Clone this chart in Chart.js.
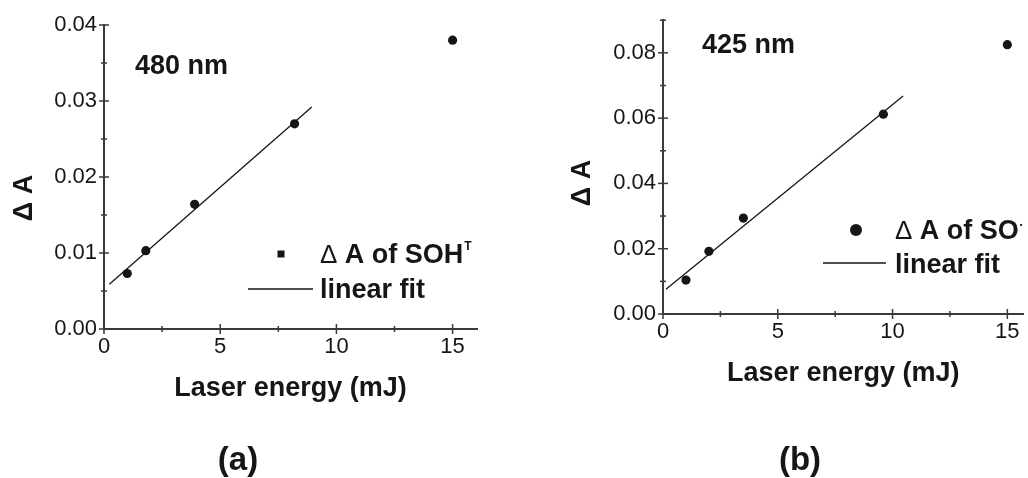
<!DOCTYPE html>
<html>
<head>
<meta charset="utf-8">
<script src="https://cdn.jsdelivr.net/npm/chart.js@4.4.1/dist/chart.umd.min.js"></script>
<style>
  html, body { margin: 0; background: #fff; }
  body { width: 1028px; height: 478px; position: relative; overflow: hidden; }
  .panel { position: absolute; top: 0; }
  #pa { left: 0; }
  #pb { left: 520px; }
</style>
</head>
<body>
<div class="panel" id="pa"><canvas id="chartA" width="500" height="478"></canvas></div>
<div class="panel" id="pb"><canvas id="chartB" width="508" height="478"></canvas></div>
<script>
// panel (a): 480 nm, SOH triplet
const energyA = [1.0, 1.8, 3.9, 8.2, 15];
const dAbsA   = [0.0073, 0.0103, 0.0164, 0.0270, 0.0380];
const fitXA   = [0.23, 8.94];
const fitYA   = [0.0059, 0.0292];
const yTicksA = [0, 0.01, 0.02, 0.03, 0.04];
const yMinorA = [0.005, 0.015, 0.025, 0.035];

// panel (b): 425 nm, SO radical
const energyB = [1.0, 2.0, 3.5, 9.6, 15];
const dAbsB   = [0.0104, 0.0192, 0.0294, 0.0612, 0.0825];
const fitXB   = [0.13, 10.46];
const fitYB   = [0.0076, 0.0668];
const yTicksB = [0, 0.02, 0.04, 0.06, 0.08];
const yMinorB = [0.01, 0.03, 0.05, 0.07, 0.09];

const xTicks = [0, 5, 10, 15];
const xMinor = [2.5, 7.5, 12.5];

const INK = '#161616';
const AXIS = '#3a3a3a';
const FONT = '"Liberation Sans", Arial, sans-serif';

const toXY = (xs, ys) => xs.map((x, i) => ({ x, y: ys[i] }));

// ticks that cross the axis line (major long, minor short)
const crossTicks = {
    id: 'crossTicks',
    afterDraw(chart, args, o) {
        const { ctx, scales: { x, y } } = chart;
        ctx.save();
        ctx.strokeStyle = AXIS;
        ctx.lineWidth = 1.5;
        const seg = (x1, y1, x2, y2) => { ctx.beginPath(); ctx.moveTo(x1, y1); ctx.lineTo(x2, y2); ctx.stroke(); };
        const yb = y.bottom, xl = x.left;
        o.xMajor.forEach(v => { const p = x.getPixelForValue(v); seg(p, yb - 5, p, yb + 5); });
        o.xMinor.forEach(v => { const p = x.getPixelForValue(v); seg(p, yb - 3, p, yb + 3); });
        o.yMajor.forEach(v => { const p = y.getPixelForValue(v); seg(xl - 5, p, xl + 5, p); });
        o.yMinor.forEach(v => { const p = y.getPixelForValue(v); seg(xl - 3, p, xl + 3, p); });
        ctx.restore();
    }
};

// annotation, legend, rotated y title and panel letter
const panelText = {
    id: 'panelText',
    afterDraw(chart, args, o) {
        const ctx = chart.ctx;
        ctx.save();
        ctx.fillStyle = INK;
        ctx.strokeStyle = INK;
        ctx.textBaseline = 'alphabetic';
        ctx.textAlign = 'left';
        ctx.font = `bold 27px ${FONT}`;
        ctx.fillText(o.note, o.noteX, o.noteY);

        // legend row 1: marker + label (+ superscript)
        if (o.marker === 'square') {
            ctx.fillRect(o.mX - 3.5, o.mY - 3.5, 7, 7);
        } else {
            ctx.beginPath(); ctx.arc(o.mX, o.mY, 6, 0, Math.PI * 2); ctx.fill();
        }
        ctx.font = `26px ${FONT}`;
        ctx.fillText('\u0394', o.textX, o.row1);
        let w = ctx.measureText('\u0394').width;
        ctx.font = `bold 27px ${FONT}`;
        ctx.fillText(o.label, o.textX + w, o.row1);
        w += ctx.measureText(o.label).width;
        ctx.font = `bold ${o.supSize}px ${FONT}`;
        ctx.fillText(o.sup, o.textX + w + 1, o.row1 - o.supRise);

        // legend row 2: line + label
        ctx.font = `bold 27px ${FONT}`;
        ctx.lineWidth = 1.3;
        ctx.beginPath(); ctx.moveTo(o.lineX1, o.lineY); ctx.lineTo(o.lineX2, o.lineY); ctx.stroke();
        ctx.fillText('linear fit', o.textX, o.row2);

        // y title
        ctx.save();
        ctx.translate(o.yTitleX, o.yTitleY);
        ctx.rotate(-Math.PI / 2);
        ctx.textAlign = 'center';
        ctx.textBaseline = 'middle';
        ctx.fillText('\u0394 A', 0, 0);
        ctx.restore();

        // panel letter
        ctx.font = `bold 33px ${FONT}`;
        ctx.textAlign = 'center';
        ctx.fillText(o.letter, o.letterX, o.letterY);
        ctx.restore();
    }
};

function makePanel(canvasId, cfg) {
    const ctx = document.getElementById(canvasId).getContext('2d');
    return new Chart(ctx, {
        type: 'scatter',
        data: {
            datasets: [
                {
                    label: cfg.pointLabel,
                    data: toXY(cfg.ex, cfg.ey),
                    pointRadius: 4.6,
                    pointBackgroundColor: INK,
                    pointBorderWidth: 0,
                    showLine: false,
                },
                {
                    label: 'linear fit',
                    data: toXY(cfg.fx, cfg.fy),
                    showLine: true,
                    pointRadius: 0,
                    borderColor: INK,
                    borderWidth: 1.3,
                },
            ],
        },
        plugins: [crossTicks, panelText],
        options: {
            responsive: false,
            animation: false,
            events: [],
            layout: { padding: cfg.padding },
            plugins: {
                legend: { display: false },
                tooltip: { enabled: false },
                crossTicks: { xMajor: xTicks, xMinor: xMinor, yMajor: cfg.yTicks, yMinor: cfg.yMinor },
                panelText: cfg.text,
            },
            scales: {
                x: {
                    type: 'linear',
                    min: 0,
                    max: cfg.xMax,
                    afterBuildTicks: s => { s.ticks = xTicks.map(v => ({ value: v })); },
                    afterFit: s => { s.height = cfg.xAxisH; },
                    grid: { display: false, drawTicks: false },
                    border: { display: true, color: AXIS, width: 2 },
                    ticks: { color: INK, padding: 5, maxRotation: 0, font: { family: FONT, size: 22 }, callback: v => String(v) },
                    title: {
                        display: true,
                        text: 'Laser energy (mJ)',
                        color: INK,
                        font: { family: FONT, size: 27, weight: 'bold' },
                        padding: { top: 0, bottom: cfg.xTitlePad },
                    },
                },
                y: {
                    type: 'linear',
                    min: 0,
                    max: cfg.yMax,
                    afterBuildTicks: s => { s.ticks = cfg.yTicks.map(v => ({ value: v })); },
                    afterFit: s => { s.width = cfg.yAxisW; },
                    grid: { display: false, drawTicks: false },
                    border: { display: true, color: AXIS, width: 2 },
                    ticks: { color: INK, padding: 7, font: { family: FONT, size: 22 }, callback: v => v.toFixed(2) },
                },
            },
        },
    });
}

makePanel('chartA', {
    pointLabel: '\u0394 A of SOH',
    ex: energyA, ey: dAbsA, fx: fitXA, fy: fitYA,
    yTicks: yTicksA, yMinor: yMinorA,
    xMax: 16.05, yMax: 0.04,
    padding: { left: 0, top: 25, right: 23, bottom: 0 },
    yAxisW: 104, xAxisH: 149, xTitlePad: 73,
    text: {
        note: '480 nm', noteX: 135, noteY: 74,
        marker: 'square', mX: 281, mY: 254,
        label: ' A of SOH', sup: 'T', supSize: 12, supRise: 13,
        textX: 320, row1: 263, row2: 298,
        lineX1: 248, lineX2: 313, lineY: 289,
        yTitleX: 25, yTitleY: 198,
        letter: '(a)', letterX: 238, letterY: 470,
    },
});

makePanel('chartB', {
    pointLabel: '\u0394 A of SO',
    ex: energyB, ey: dAbsB, fx: fitXB, fy: fitYB,
    yTicks: yTicksB, yMinor: yMinorB,
    xMax: 15.7, yMax: 0.09,
    padding: { left: 0, top: 11, right: 0, bottom: 0 },
    yAxisW: 143, xAxisH: 164, xTitlePad: 88,
    text: {
        note: '425 nm', noteX: 182, noteY: 53,
        marker: 'circle', mX: 336, mY: 230,
        label: ' A of SO', sup: '\u2022', supSize: 8, supRise: 12,
        textX: 375, row1: 239, row2: 273,
        lineX1: 303, lineX2: 366, lineY: 263,
        yTitleX: 63, yTitleY: 183,
        letter: '(b)', letterX: 280, letterY: 470,
    },
});
</script>
</body>
</html>
